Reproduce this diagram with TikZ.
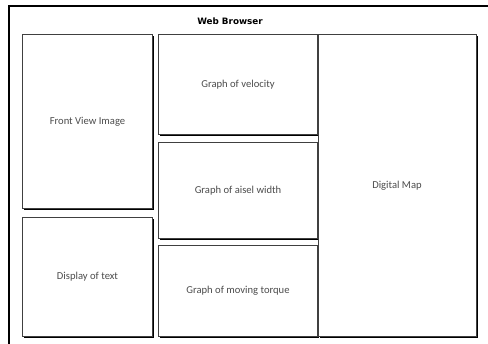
\documentclass[tikz,border=0pt]{standalone}
\usepackage{fontspec}
\setmainfont{Carlito}
\newfontfamily\titlefont{DejaVu Sans}
\usetikzlibrary{shadows}
\begin{document}
\begin{tikzpicture}[x=1pt,y=-1pt,
  panel/.style={draw=black!75, line width=1pt, fill=white, anchor=north west,
    inner sep=0pt, align=center, font=\fontsize{10.6}{12}\selectfont, text=black!70,
    drop shadow={shadow xshift=1.4pt, shadow yshift=-1.4pt, fill=black, opacity=1}},
  label/.style={font=\fontsize{10.6}{12}\selectfont, text=black!70},
  frame/.style={line width=2.8pt, black}]
  \useasboundingbox (0,0) rectangle (488,344);
  % browser window frame
  \coordinate (fl) at (9,350);
  \coordinate (ftl) at (9,6);
  \coordinate (fr) at (492,6);
  \draw[frame] (fl) -- (ftl) -- (fr);
  \node[font=\titlefont\bfseries\fontsize{8.8}{10}\selectfont] (title) at (230,21) {Web Browser};
  % left column
  \node[panel, minimum width=130pt, minimum height=174pt] (front) at (22,34) {Front View Image};
  \node[panel, minimum width=130pt, minimum height=119pt] (textbox) at (22,217) {Display of text};
  % middle column
  \node[panel, minimum width=159pt, minimum height=100pt] (vel) at (158,34) {Graph of velocity};
  \node[panel, minimum width=159pt, minimum height=96pt] (aisle) at (158,142) {Graph of aisel width};
  \node[panel, minimum width=159pt, minimum height=91pt] (torque) at (158,245) {Graph of moving torque};
  % right column
  \node[panel, minimum width=158pt, minimum height=302pt] (map) at (318,34) {};
  \node[label] (maplabel) at (397,186) {Digital Map};
\end{tikzpicture}
\end{document}
